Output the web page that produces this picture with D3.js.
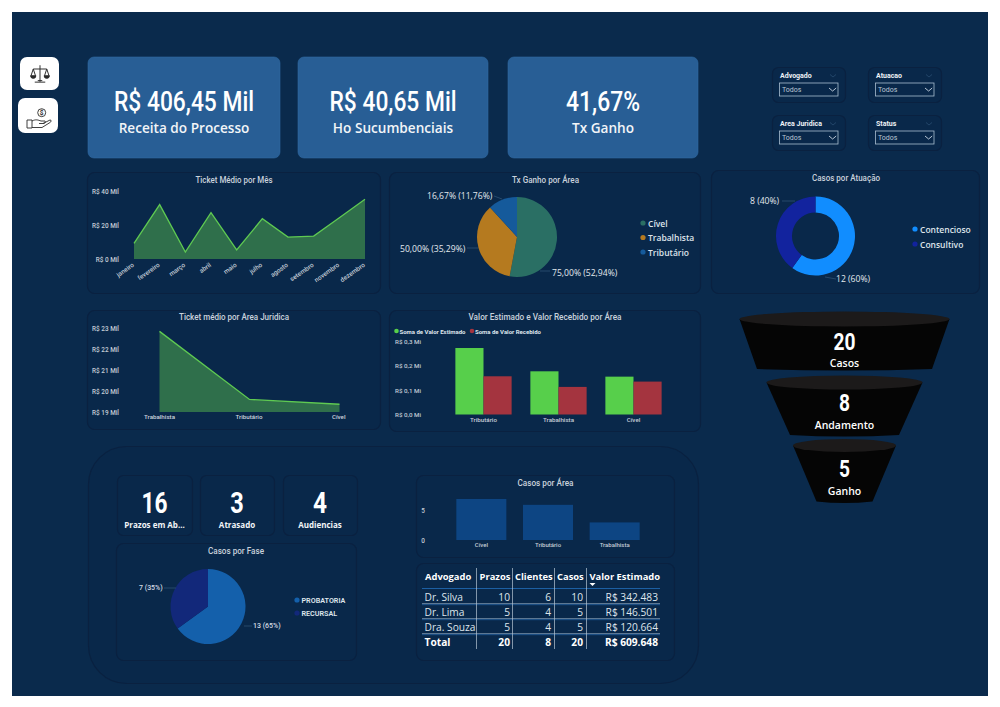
<!DOCTYPE html>
<html lang="pt-BR">
<head>
<meta charset="utf-8">
<title>Painel Jurídico</title>
<script src="https://cdn.jsdelivr.net/npm/d3@7/dist/d3.min.js"></script>
<style>
  html, body { margin: 0; padding: 0; background: #fff; }
  svg { display: block; }
  text { font-family: Roboto, "Noto Sans", sans-serif; }
  .seg { font-family: "Open Sans", "Noto Sans", sans-serif; }
  .axis path, .axis line { display: none; }
</style>
</head>
<body>
<svg id="board" width="1000" height="707"></svg>
<script>
// ---- Dados do painel ----
const kpiValues = ["R$ 406,45 Mil", "R$ 40,65 Mil", "41,67%"];
const kpiLabels = ["Receita do Processo", "Ho Sucumbenciais", "Tx Ganho"];

const months = ["janeiro", "fevereiro", "março", "abril", "maio", "julho", "agosto", "setembro", "novembro", "dezembro"];
const ticketByMonth = [9.2, 32, 4.1, 27.3, 5.3, 23.7, 12.9, 13.5, 24.3, 35.1];

const txAreas = ["Cível", "Trabalhista", "Tributário"];
const txShares = [52.94, 35.29, 11.76];
const txLabels = ["75,00% (52,94%)", "50,00% (35,29%)", "16,67% (11,76%)"];

const atuacaoNames = ["Contencioso", "Consultivo"];
const atuacaoCases = [12, 8];
const atuacaoLabels = ["12 (60%)", "8 (40%)"];

const ticketAreas = ["Trabalhista", "Tributário", "Cível"];
const ticketByArea = [22.84, 19.6, 19.37];

const valueAreas = ["Tributário", "Trabalhista", "Cível"];
const valorEstimado = [0.274, 0.178, 0.156];
const valorRecebido = [0.1575, 0.1137, 0.1356];
const valueSeries = ["Soma de Valor Estimado", "Soma de Valor Recebido"];

const funnelValues = [20, 8, 5];
const funnelLabels = ["Casos", "Andamento", "Ganho"];

const deadlineValues = [16, 3, 4];
const deadlineLabels = ["Prazos em Ab...", "Atrasado", "Audiencias"];

const faseNames = ["PROBATORIA", "RECURSAL"];
const faseCases = [13, 7];
const faseLabels = ["13 (65%)", "7 (35%)"];

const casosAreas = ["Cível", "Tributário", "Trabalhista"];
const casosValues = [7, 6, 3];

const tableHeader = ["Advogado", "Prazos", "Clientes", "Casos", "Valor Estimado"];
const tableLawyers = ["Dr. Silva", "Dr. Lima", "Dra. Souza", "Total"];
const tablePrazos = [10, 5, 5, 20];
const tableClientes = [6, 4, 4, 8];
const tableCasos = [10, 5, 5, 20];
const tableValor = ["R$ 342.483", "R$ 146.501", "R$ 120.664", "R$ 609.648"];

const filterNames = ["Advogado", "Atuacao", "Area Juridica", "Status"];

// ---- Paleta ----
const C = {
  bg: "#0a2a4c", panel: "#09284a", border: "#0a2140", card: "#285e95", cardEdge: "#2f6aa3",
  text: "#ffffff", soft: "#c9d2dc", tick: "#c4ccd6", leader: "#27496b",
  green: "#57cf4b", greenLine: "#5fca52", greenFill: "#2f6f4b", red: "#a4343f",
  teal: "#2a6f64", amber: "#b57a1f", blue: "#155a9b",
  sky: "#118dff", navy: "#12239e", deep: "#12287a", mid: "#1460ab", bar: "#0d4583"
};

const svg = d3.select("#board");

// Fundo do relatório
svg.append("rect").attr("x", 12).attr("y", 12).attr("width", 976).attr("height", 684).attr("fill", C.bg);

function panel(x0, y0, x1, y1, r = 7) {
  svg.append("rect").attr("x", x0 + .5).attr("y", y0 + .5)
    .attr("width", x1 - x0).attr("height", y1 - y0).attr("rx", r)
    .attr("fill", C.panel).attr("stroke", C.border).attr("stroke-width", 1.2);
}
function label(x, y, s, o = {}) {
  const t = svg.append("text").attr("x", x).attr("y", y).text(s)
    .attr("text-anchor", o.anchor || "middle").attr("dominant-baseline", "central")
    .attr("font-size", o.size || 8).attr("font-weight", o.weight || 500)
    .attr("fill", o.fill || C.soft).attr("class", o.cls || null)
    .attr("transform", o.transform || null);
  // Largura fixa para simular uma fonte de corpo estreito
  if (o.fit) t.attr("textLength", o.fit).attr("lengthAdjust", "spacingAndGlyphs");
  return t;
}
function title(x, y, s, fit) { label(x, y, s, { size: 8.6, weight: 500, fit }); }
function dotLegend(x, y, s, color, o = {}) {
  svg.append("circle").attr("cx", x).attr("cy", y).attr("r", o.r || 2.6).attr("fill", color);
  label(x + (o.gap || 5), y, s, { anchor: "start", size: o.size || 9, weight: o.weight || 500, fill: o.fill || "#dfe5ec", cls: o.cls });
}
function leader(x0, y0, x1, y1) {
  svg.append("line").attr("x1", x0).attr("y1", y0).attr("x2", x1).attr("y2", y1)
    .attr("stroke", C.leader).attr("stroke-width", 1);
}
function yAxis(scale, x, ticks, fmt, size = 6.4) {
  const g = svg.append("g").attr("class", "axis").attr("transform", `translate(${x},0)`)
    .call(d3.axisLeft(scale).tickValues(ticks).tickFormat(fmt).tickSize(0).tickPadding(0));
  g.selectAll("text").attr("font-size", size).attr("font-weight", 500).attr("fill", C.tick);
  return g;
}
function xAxis(scale, y, size = 6.2) {
  const g = svg.append("g").attr("class", "axis").attr("transform", `translate(0,${y})`)
    .call(d3.axisBottom(scale).tickSize(0).tickPadding(0));
  g.selectAll("text").attr("font-size", size).attr("font-weight", 500).attr("fill", C.tick);
  return g;
}
function areaChart(xs, values, x, y, base) {
  svg.append("path").datum(values).attr("fill", C.greenFill)
    .attr("d", d3.area().x((d, i) => x(xs[i])).y0(base).y1(d => y(d)));
  svg.append("path").datum(values).attr("fill", "none").attr("stroke", C.greenLine).attr("stroke-width", 1.3)
    .attr("d", d3.line().x((d, i) => x(xs[i])).y(d => y(d)));
}
function pieChart(cx, cy, values, colors, outer, inner = 0) {
  const arcs = d3.pie().sort(null)(values);
  const arc = d3.arc().innerRadius(inner).outerRadius(outer);
  svg.append("g").attr("transform", `translate(${cx},${cy})`)
    .selectAll("path").data(arcs).join("path")
    .attr("d", arc).attr("fill", (d, i) => colors[i]);
}

// ---- Atalhos de navegação ----
svg.append("rect").attr("x", 20).attr("y", 57).attr("width", 39).attr("height", 33).attr("rx", 7).attr("fill", "#fff");
svg.append("rect").attr("x", 18).attr("y", 98).attr("width", 40).attr("height", 35).attr("rx", 7).attr("fill", "#fff");

// Balança
const scaleIcon = svg.append("g").attr("transform", "translate(40,73.5) scale(.75)")
  .attr("fill", "none").attr("stroke", "#2b2b2b").attr("stroke-width", 1.3);
scaleIcon.append("path").attr("d", "M0,-11V11M-7,11.5H7M-3,9.5H3M-9,-6H9");
scaleIcon.append("path").attr("d", "M-9,-6L-12,3M-9,-6L-6,3M9,-6L6,3M9,-6L12,3");
scaleIcon.append("path").attr("d", "M-12.5,3A3.5,3.4 0 0 0 -5.5,3ZM5.5,3A3.5,3.4 0 0 0 12.5,3Z").attr("fill", "#2b2b2b");

// Mão com moeda
const handIcon = svg.append("g").attr("transform", "translate(38,117)")
  .attr("fill", "none").attr("stroke", "#2b2b2b").attr("stroke-width", .9);
handIcon.append("circle").attr("cx", 3.7).attr("cy", -4.3).attr("r", 4);
handIcon.append("path").attr("d", "M-11,3H-6V11H-11ZM-6,4C-2,2 0,3 3,4H7C8,5 7,6.5 5,6.5H1M5,6.5L12,3C14,3 13,5 12,5.5L4,10.5H-6");
label(41.7, 112.7, "$", { size: 6.5, weight: 700, fill: "#2b2b2b" });

// ---- Cartões de indicadores ----
[[88, 280, 140], [298, 488, 127], [508, 698, 74]].forEach(([x0, x1, fit], i) => {
  svg.append("rect").attr("x", x0).attr("y", 57).attr("width", x1 - x0).attr("height", 101).attr("rx", 6)
    .attr("fill", C.card).attr("stroke", C.cardEdge).attr("stroke-width", .6);
  label((x0 + x1) / 2, 101.5, kpiValues[i], { size: 27, weight: 500, fill: "#fff", fit });
  label((x0 + x1) / 2, 127, kpiLabels[i], { size: 13.6, weight: 600, fill: "#f2f5f8", cls: "seg" });
});

// ---- Filtros ----
filterNames.forEach((name, i) => {
  const x0 = i % 2 ? 868 : 772, y0 = i < 2 ? 67 : 115;
  panel(x0, y0, x0 + 73, y0 + 35, 6);
  label(x0 + 8, y0 + 9, name, { anchor: "start", size: 7, weight: 700, fill: "#eef2f6" });
  svg.append("path").attr("d", `M${x0 + 58},${y0 + 7.5}l3,2.5l3,-2.5`).attr("fill", "none").attr("stroke", "#25486c").attr("stroke-width", .9);
  svg.append("rect").attr("x", x0 + 7.5).attr("y", y0 + 16).attr("width", 58.5).attr("height", 13)
    .attr("fill", "none").attr("stroke", "#a9bdd0").attr("stroke-width", .8);
  label(x0 + 10, y0 + 23, "Todos", { anchor: "start", size: 7, weight: 400, fill: "#b9c6d3" });
  svg.append("path").attr("d", `M${x0 + 57},${y0 + 21}l3.6,3l3.6,-3`).attr("fill", "none").attr("stroke", "#c9d6e2").attr("stroke-width", .9);
});

// ---- Ticket médio por mês ----
panel(87, 172, 380, 293);
title(234, 179.5, "Ticket Médio por Mês", 77);
{
  const x = d3.scalePoint().domain(months).range([134, 365]);
  const y = d3.scaleLinear().domain([0, 40]).range([259, 191]);
  areaChart(months, ticketByMonth, x, y, y(0));
  yAxis(y, 119, [0, 20, 40], d => `R$ ${d} Mil`);
  xAxis(x, 262).selectAll("text").attr("text-anchor", "end").attr("dy", 0)
    .attr("transform", "translate(0,4) rotate(-35)").attr("font-size", 6.4);
}

// ---- Taxa de ganho por área ----
panel(389, 172, 700, 293);
title(545.5, 179.5, "Tx Ganho por Área", 67);
pieChart(517, 237, txShares, [C.teal, C.amber, C.blue], 40);
[[552, 273, 550, 271, 540, 271], [400, 249, 467, 248, 478, 248], [427, 196, 494, 196, 502, 199]].forEach((p, i) => {
  leader(p[2], p[3], p[4], p[5]);
  label(p[0], p[1], txLabels[i], { anchor: "start", size: 8.6, weight: 500, fill: "#e3e8ee", cls: "seg" });
});
txAreas.forEach((a, i) => dotLegend(643, 223 + i * 14.5, a, [C.teal, C.amber, C.blue][i], { size: 8.5, gap: 5, cls: "seg", weight: 600 }));

// ---- Casos por atuação ----
panel(711, 170, 979, 293);
title(846, 178, "Casos por Atuação", 68);
pieChart(815.5, 236, atuacaoCases, [C.sky, C.navy], 39.5, 23.5);
leader(825, 277, 836, 279);
leader(782, 201, 795, 201);
label(836, 279, atuacaoLabels[0], { anchor: "start", size: 8.6, weight: 500, fill: "#e3e8ee", cls: "seg" });
label(750, 201, atuacaoLabels[1], { anchor: "start", size: 8.6, weight: 500, fill: "#e3e8ee", cls: "seg" });
atuacaoNames.forEach((a, i) => dotLegend(915, 229 + i * 15, a, [C.sky, C.navy][i], { size: 8.5, gap: 5, cls: "seg", weight: 600 }));

// ---- Ticket médio por área jurídica ----
panel(87, 310, 380, 429);
title(234, 317, "Ticket médio por Area Juridica", 110);
{
  const x = d3.scalePoint().domain(ticketAreas).range([159.5, 339.5]);
  const y = d3.scaleLinear().domain([19, 23]).range([412, 328]);
  areaChart(ticketAreas, ticketByArea, x, y, y(19));
  yAxis(y, 119, [19, 20, 21, 22, 23], d => `R$ ${d} Mil`);
  label(159.5, 417, ticketAreas[0], { size: 6.2 });
  label(249, 417, ticketAreas[1], { size: 6.2 });
  label(339.5, 417, ticketAreas[2], { size: 6.2, anchor: "end" }).attr("dx", 6);
}

// ---- Valor estimado e recebido ----
panel(389, 310, 700, 431);
title(545, 317, "Valor Estimado e Valor Recebido por Área", 153);
dotLegend(396.5, 331, valueSeries[0], C.green, { size: 6, gap: 3, r: 2.3, weight: 700 });
dotLegend(472, 331, valueSeries[1], C.red, { size: 6, gap: 3, r: 2.3, weight: 700 });
{
  const band = d3.scaleBand().domain(valueAreas).range([446, 671]).paddingInner(.25).paddingOuter(.125);
  const inner = d3.scaleBand().domain([0, 1]).range([0, band.bandwidth()]);
  const y = d3.scaleLinear().domain([0, 0.3]).range([414.5, 341.7]);
  [valorEstimado, valorRecebido].forEach((series, s) => {
    svg.append("g").selectAll("rect").data(series).join("rect")
      .attr("x", (d, i) => band(valueAreas[i]) + inner(s))
      .attr("y", d => y(d))
      .attr("width", inner.bandwidth())
      .attr("height", d => y(0) - y(d))
      .attr("fill", s ? C.red : C.green);
  });
  yAxis(y, 421, [0, .1, .2, .3], d => `R$ ${d.toFixed(1).replace(".", ",")} Mi`).selectAll("text").attr("font-size", 6.2);
  xAxis(band, 418);
}

// ---- Funil ----
const funnelShapes = [
  { cy: 319, rx: 105, ry: 7.5, bottom: 369, half: 87.5 },
  { cy: 382.5, rx: 78, ry: 7, bottom: 435, half: 54.5 },
  { cy: 445.5, rx: 51.5, ry: 6.5, bottom: 501.5, half: 28 }
];
const funnelX = 844.5;
funnelShapes.forEach((f, i) => {
  svg.append("path").attr("fill", "#050505")
    .attr("d", `M${funnelX - f.rx},${f.cy}L${funnelX - f.half},${f.bottom}Q${funnelX},${f.bottom + 3} ${funnelX + f.half},${f.bottom}L${funnelX + f.rx},${f.cy}Z`);
  svg.append("ellipse").attr("cx", funnelX).attr("cy", f.cy).attr("rx", f.rx).attr("ry", f.ry).attr("fill", "#1c1a1a");
  const numberY = [342, 402.5, 469][i], textY = [363, 424.5, 491][i];
  label(funnelX, numberY, funnelValues[i], { size: 24, weight: 700, fill: "#fff", fit: [22, 11, 11][i] });
  label(funnelX, textY, funnelLabels[i], { size: 10.5, weight: 600, fill: "#fff", cls: "seg" });
});

// ---- Bloco inferior ----
panel(88, 446, 698, 683, 38);
[[117, 192, 26], [200, 274, 13.5], [283, 357, 14]].forEach(([x0, x1, fit], i) => {
  panel(x0, 475, x1, 535, 6);
  label((x0 + x1) / 2, 503, deadlineValues[i], { size: 29, weight: 700, fill: "#fff", fit });
  label((x0 + x1) / 2, 524, deadlineLabels[i], { size: 8, weight: 700, fill: "#f2f5f8", cls: "seg" });
});

// Casos por fase
panel(116, 543, 356, 660);
title(236, 551, "Casos por Fase", 56);
pieChart(208, 606.5, faseCases, [C.mid, C.deep], 37.5);
leader(164, 588, 176, 588);
leader(244, 626, 252, 626);
label(253, 626, faseLabels[0], { anchor: "start", size: 7, weight: 500, fill: "#d5dce4" });
label(139, 588, faseLabels[1], { anchor: "start", size: 7, weight: 500, fill: "#d5dce4" });
faseNames.forEach((a, i) => dotLegend(297, 600 + i * 13, a, [C.mid, C.deep][i], { size: 7.2, gap: 4.5, weight: 600 }));

// Casos por área
panel(416, 475, 674, 557);
title(545.5, 482.5, "Casos por Área", 56);
{
  const x = d3.scaleBand().domain(casosAreas).range([448, 648]).paddingInner(.25).paddingOuter(.125);
  const y = d3.scaleLinear().domain([0, 5]).range([540, 510.7]);
  svg.append("g").selectAll("rect").data(casosValues).join("rect")
    .attr("x", (d, i) => x(casosAreas[i]))
    .attr("y", d => y(d))
    .attr("width", x.bandwidth())
    .attr("height", d => y(0) - y(d))
    .attr("fill", C.bar);
  yAxis(y, 425, [0, 5], d => d, 6.4);
  xAxis(x, 542.5, 6);
}

// Tabela de advogados
panel(416, 563, 674, 660);
{
  const seps = [476.5, 512.5, 554.5, 586.5];
  const rowY = [597, 612, 627, 642];
  const rights = [510, 551, 583, 658];
  const headX = [425, 479.5, 515, 557, 589.5];
  tableHeader.forEach((h, i) => label(headX[i], 576, h, { anchor: "start", size: 9.4, weight: 700, fill: "#fff", cls: "seg" }));
  svg.append("path").attr("d", "M589.5,583h6l-3,3z").attr("fill", "#fff");
  svg.append("line").attr("x1", 422).attr("x2", 660).attr("y1", 588.5).attr("y2", 588.5).attr("stroke", "#1c5fa3").attr("stroke-width", 1.2);
  [603.7, 618.7, 633.7].forEach(ly => {
    svg.append("line").attr("x1", 422).attr("x2", 660).attr("y1", ly).attr("y2", ly).attr("stroke", "#9fb6cb").attr("stroke-width", .7);
    svg.append("line").attr("x1", 422).attr("x2", 660).attr("y1", ly + 1).attr("y2", ly + 1).attr("stroke", "#1c5fa3").attr("stroke-width", .7);
  });
  seps.forEach(sx => svg.append("line").attr("x1", sx).attr("x2", sx).attr("y1", 568).attr("y2", 649).attr("stroke", "#b7c6d4").attr("stroke-width", .7));
  tableLawyers.forEach((name, r) => {
    const total = r === tableLawyers.length - 1;
    const opts = { size: 10.2, weight: total ? 700 : 400, fill: total ? "#fff" : "#dfe6ed", cls: "seg" };
    label(424.5, rowY[r], name, { ...opts, anchor: "start" });
    [tablePrazos[r], tableClientes[r], tableCasos[r], tableValor[r]].forEach((v, c) =>
      label(rights[c], rowY[r], v, { ...opts, anchor: "end" }));
  });
}
</script>
</body>
</html>
